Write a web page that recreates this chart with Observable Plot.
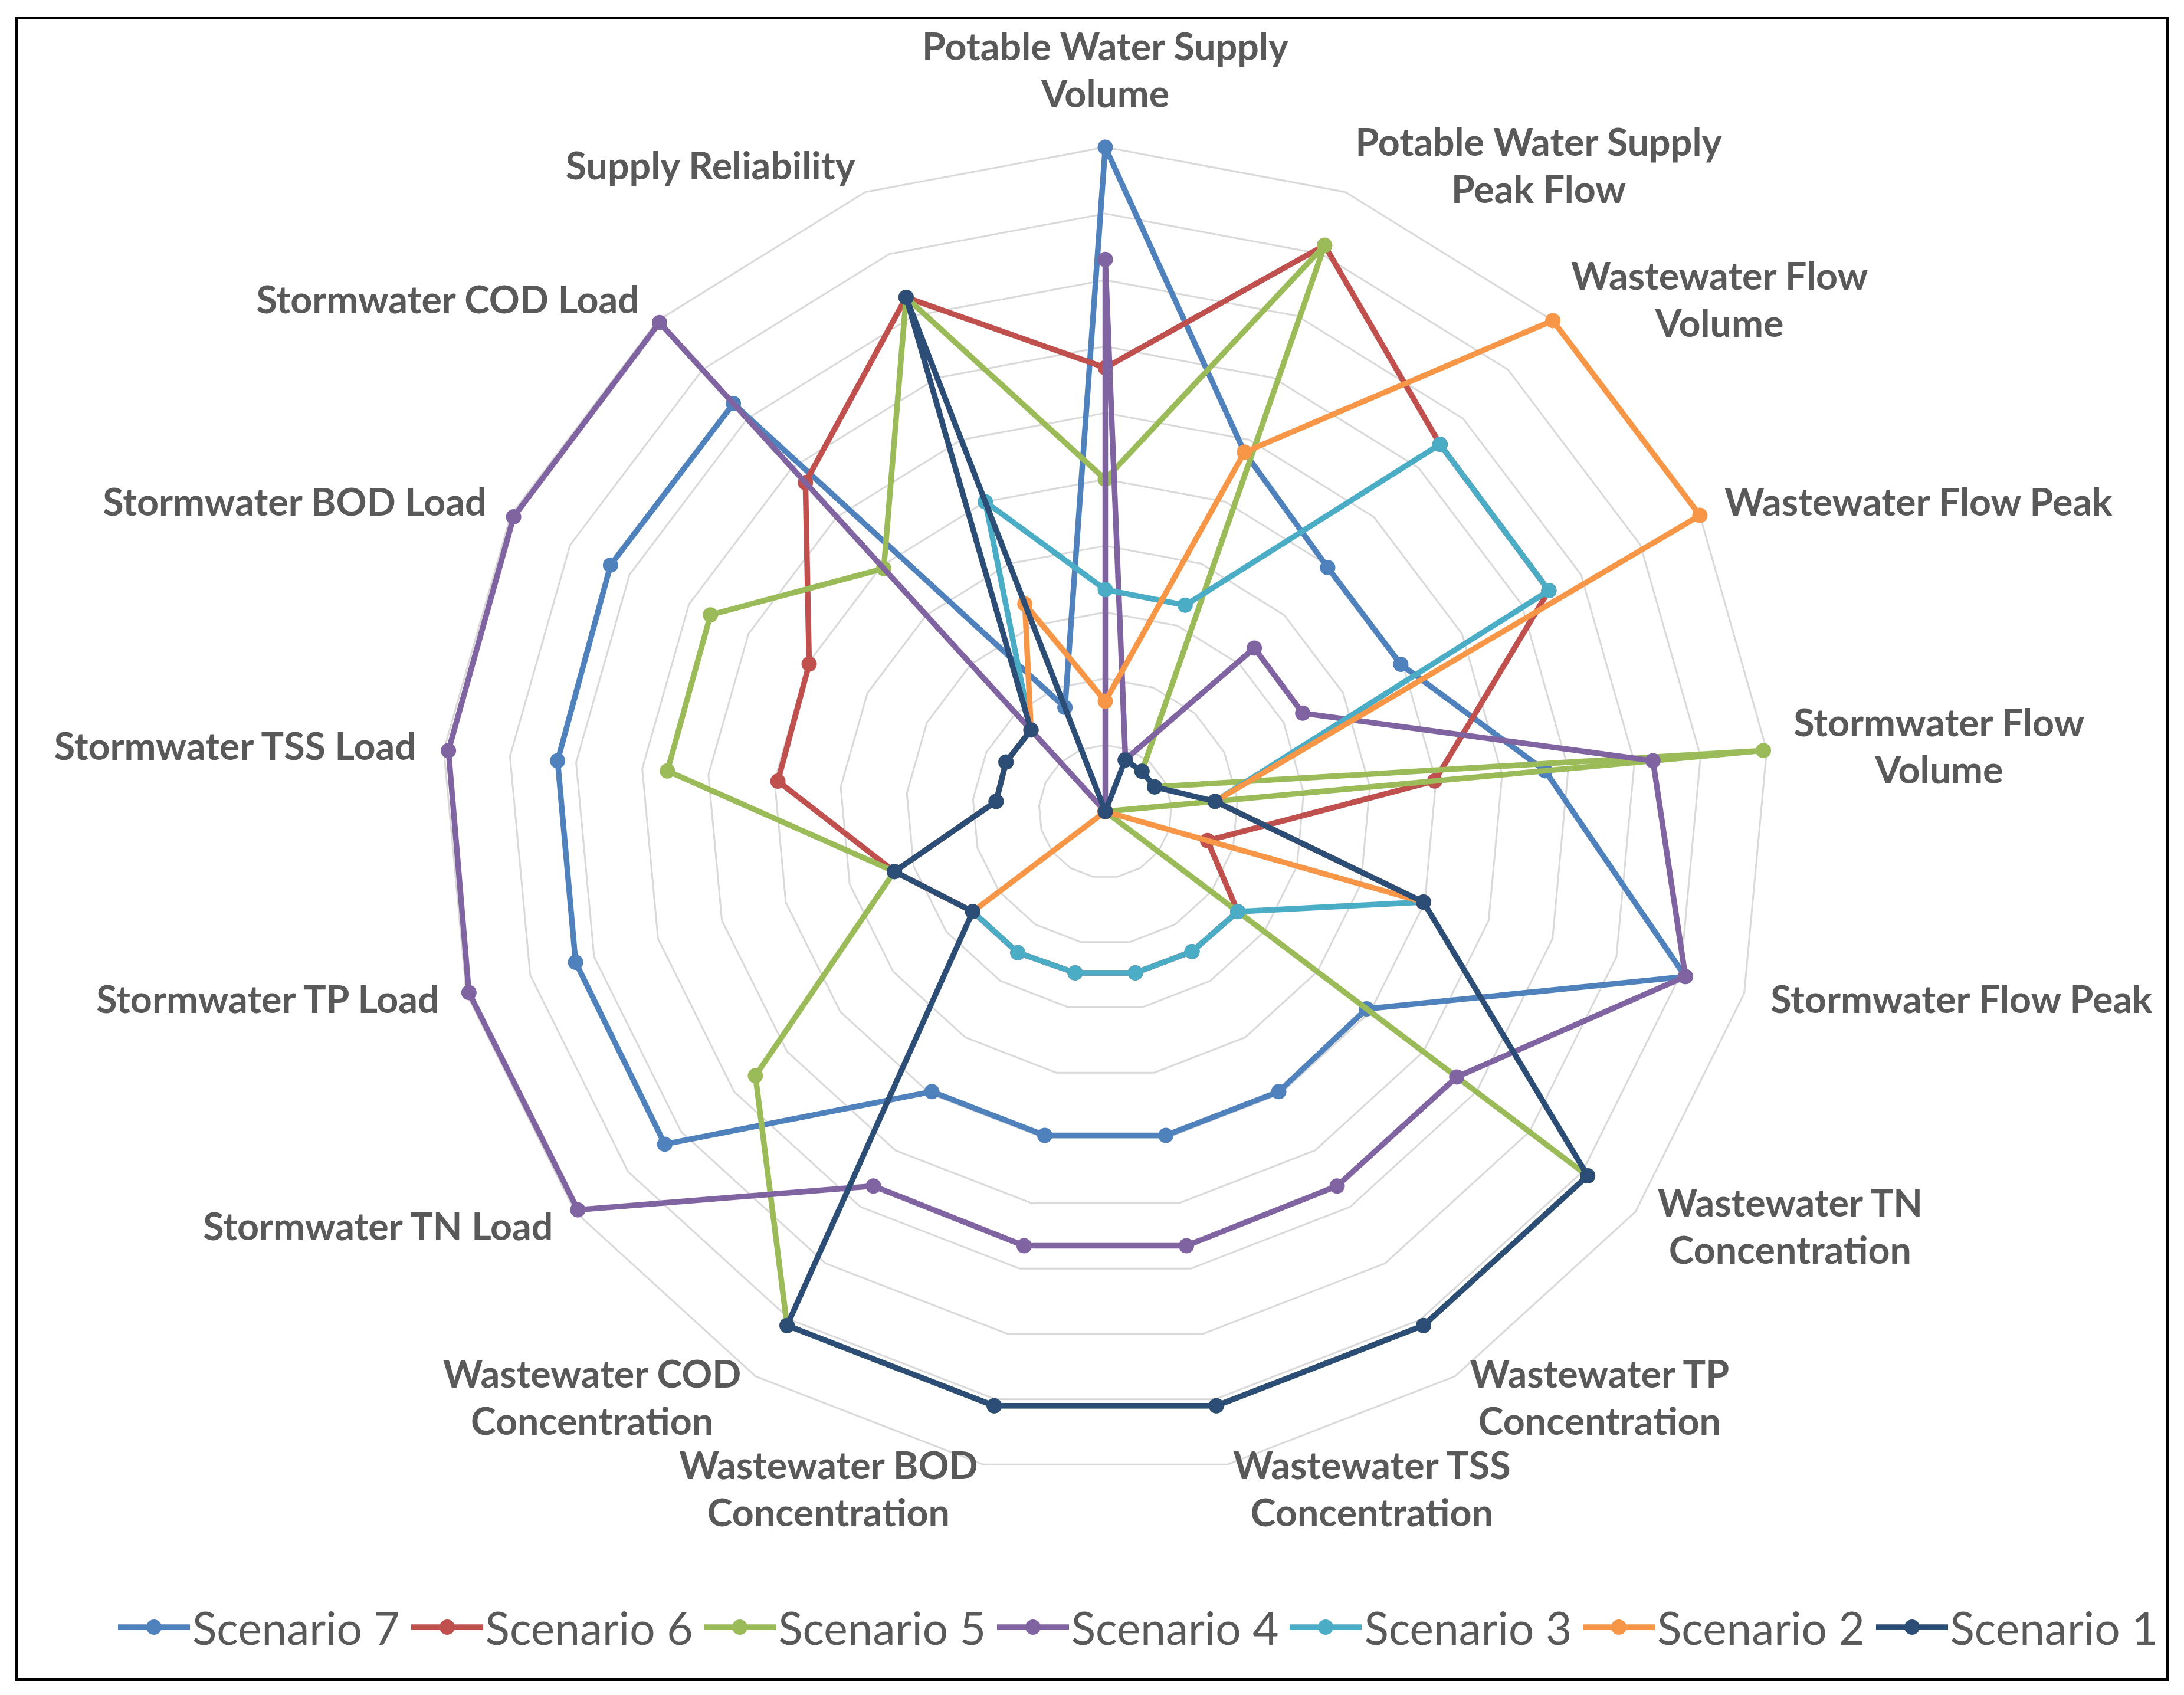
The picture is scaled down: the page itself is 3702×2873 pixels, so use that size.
<!DOCTYPE html>
<html>
<head>
<meta charset="utf-8">
<script src="https://cdn.jsdelivr.net/npm/d3@7"></script>
<script src="https://cdn.jsdelivr.net/npm/@observablehq/plot@0.6"></script>
<style>
  html, body { margin: 0; padding: 0; background: #fff; }
  #page { position: relative; width: 3702px; height: 2873px; background: #fff; overflow: hidden; }
  #frame { position: absolute; left: 25px; top: 28px; width: 3652px; height: 2822px; border: 5px solid #000; box-sizing: border-box; pointer-events: none; }
  #chart svg { display: block; }
  #legend { display: flex; align-items: center; height: 116px; padding-left: 200px; font-family: Lato, sans-serif; color: #595959; }
  .item { display: flex; align-items: center; flex: none; width: 496.6px; }
  .item svg { flex: none; margin-right: 4px; }
</style>
</head>
<body>
<div id="page">
  <div id="chart"></div>
  <div id="legend"></div>
  <div id="frame"></div>
</div>
<script>
// ---- data ----
const categories = [
  "Potable Water Supply\nVolume",
  "Potable Water Supply\nPeak Flow",
  "Wastewater Flow\nVolume",
  "Wastewater Flow Peak",
  "Stormwater Flow\nVolume",
  "Stormwater Flow Peak",
  "Wastewater TN\nConcentration",
  "Wastewater TP\nConcentration",
  "Wastewater TSS\nConcentration",
  "Wastewater BOD\nConcentration",
  "Wastewater COD\nConcentration",
  "Stormwater TN Load",
  "Stormwater TP Load",
  "Stormwater TSS Load",
  "Stormwater BOD Load",
  "Stormwater COD Load",
  "Supply Reliability"
];
const seriesNames = ["Scenario 7", "Scenario 6", "Scenario 5", "Scenario 4", "Scenario 3", "Scenario 2", "Scenario 1"];
const scenario7 = [10, 5.8, 4.97, 4.97, 6.65, 9.08, 4.93, 4.96, 4.96, 4.96, 4.96, 8.31, 8.29, 8.28, 8.32, 8.31, 1.68];
const scenario6 = [6.68, 9.14, 7.48, 7.46, 4.98, 1.6, 2.5, 2.48, 2.47, 2.47, 2.5, 2.5, 3.3, 4.95, 4.98, 6.7, 8.3];
const scenario5 = [5.0, 9.14, 0.82, 0.83, 9.95, 0, 9.1, 9.1, 9.1, 9.1, 9.1, 6.6, 3.3, 6.62, 6.64, 4.95, 8.3];
const scenario4 = [8.31, 0.84, 3.33, 3.32, 8.28, 9.08, 6.63, 6.63, 6.65, 6.65, 6.63, 9.95, 9.96, 9.93, 9.95, 9.96, 0];
const scenario3 = [3.34, 3.33, 7.48, 7.46, 1.66, 4.98, 2.5, 2.48, 2.47, 2.47, 2.5, 2.5, 3.3, 1.65, 1.67, 1.66, 5.0];
const scenario2 = [1.66, 5.8, 10, 10, 1.66, 4.98, 0, 0, 0, 0, 0, 2.5, 3.3, 1.65, 1.67, 1.66, 3.35];
const scenario1 = [0, 0.83, 0.82, 0.83, 1.66, 4.98, 9.1, 9.1, 9.1, 9.1, 9.1, 2.5, 3.3, 1.65, 1.67, 1.66, 8.3];
const gridLevels = [1, 2, 3, 4, 5, 6, 7, 8, 9, 10];

// ---- styles / layout ----
const seriesValues = [scenario7, scenario6, scenario5, scenario4, scenario3, scenario2, scenario1];
const colors = ["#4F81BD", "#C0504D", "#9BBB59", "#8064A2", "#4BACC6", "#F79646", "#2C4D75"];
const pageW = 3702, svgH = 2700;
const cx0 = 1873, cy0 = 1375, R = 1126;
const maxV = 10;
const ppu = R / maxV;
const N = categories.length;
const theta = k => 2 * Math.PI * k / N;
const pt = (v, k) => ({x: v * Math.sin(theta(k)), y: v * Math.cos(theta(k))});

// text measurement
const ctx = document.createElement("canvas").getContext("2d");
function tw(s, font) { ctx.font = font; return ctx.measureText(s).width; }
const labelSize = 100 * 623 / tw("Potable Water Supply", "bold 100px Lato");
const lineH = 80;
const legendSize = 100 * 352 / tw("Scenario 7", "100px Lato");

// grid rings
const gridData = gridLevels.flatMap(L => d3.range(N + 1).map(k => ({...pt(L, k % N), level: L})));

// labels
const labelData = categories.map((c, k) => {
  const lines = c.split("\n");
  const w = d3.max(lines, l => tw(l, `bold ${labelSize}px Lato`));
  const h = lines.length * lineH;
  const s = Math.sin(theta(k)), co = Math.cos(theta(k));
  const v = pt(maxV, k);
  let x, y;
  if (k === 0) {
    x = v.x;
    y = v.y + (53 + h / 2) / ppu;
  } else {
    x = v.x + (45 * s + Math.sign(s) * w / 2) / ppu;
    y = v.y + (45 * co + 5) / ppu;
  }
  return {text: c, x, y};
});

const marks = [
  Plot.line(gridData, {x: "x", y: "y", z: "level", stroke: "#d9d9d9", strokeWidth: 3})
];
seriesValues.forEach((vals, i) => {
  const pts = vals.map((v, k) => pt(v, k));
  marks.push(Plot.line([...pts, pts[0]], {x: "x", y: "y", stroke: colors[i], strokeWidth: 9.5, strokeLinejoin: "round", strokeLinecap: "round"}));
  marks.push(Plot.dot(pts, {x: "x", y: "y", r: 13, fill: colors[i], stroke: "none"}));
});
marks.push(Plot.text(labelData, {
  x: "x", y: "y", text: "text",
  textAnchor: "middle", lineAnchor: "middle",
  lineHeight: lineH / labelSize,
  fontFamily: "Lato", fontWeight: "bold", fontSize: labelSize, fill: "#595959"
}));

const chart = Plot.plot({
  width: pageW,
  height: svgH,
  marginLeft: cx0 - R,
  marginRight: pageW - (cx0 + R),
  marginTop: cy0 - R,
  marginBottom: svgH - (cy0 + R),
  x: {domain: [-maxV, maxV], axis: null},
  y: {domain: [-maxV, maxV], axis: null},
  style: {background: "#fff", overflow: "visible"},
  marks
});
document.getElementById("chart").appendChild(chart);

// legend
const legend = document.getElementById("legend");
seriesNames.forEach((name, i) => {
  const item = document.createElement("div");
  item.className = "item";
  const ns = "http://www.w3.org/2000/svg";
  const s = document.createElementNS(ns, "svg");
  s.setAttribute("width", 122); s.setAttribute("height", 30);
  const ln = document.createElementNS(ns, "line");
  ln.setAttribute("x1", 0); ln.setAttribute("x2", 122); ln.setAttribute("y1", 15); ln.setAttribute("y2", 15);
  ln.setAttribute("stroke", colors[i]); ln.setAttribute("stroke-width", 9.5);
  const c = document.createElementNS(ns, "circle");
  c.setAttribute("cx", 61); c.setAttribute("cy", 15); c.setAttribute("r", 13); c.setAttribute("fill", colors[i]);
  s.appendChild(ln); s.appendChild(c);
  const t = document.createElement("span");
  t.textContent = name;
  t.style.fontSize = legendSize + "px";
  t.style.whiteSpace = "nowrap";
  item.appendChild(s); item.appendChild(t);
  legend.appendChild(item);
});
</script>
</body>
</html>
